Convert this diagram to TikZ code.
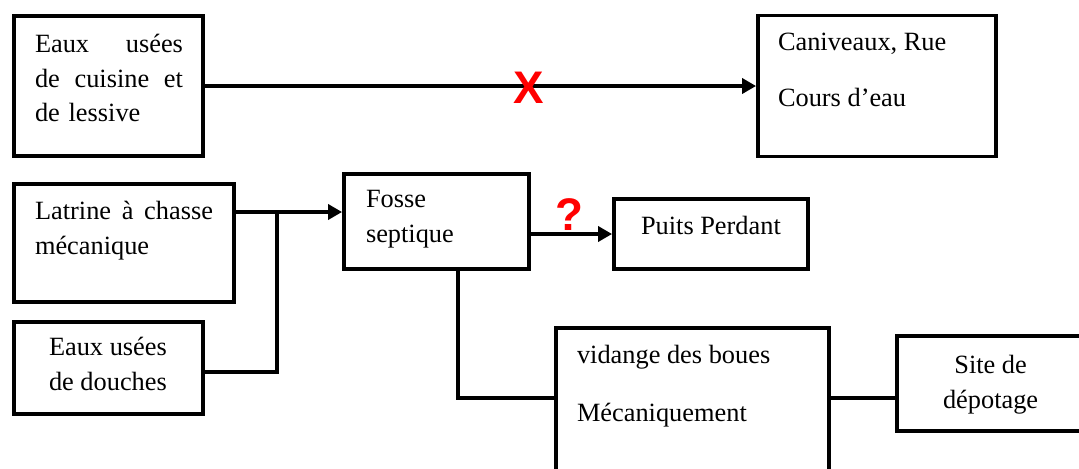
\documentclass[tikz,border=0pt]{standalone}
\usepackage{fontspec}
\setmainfont{Liberation Serif}
\newfontfamily\sansgras{Liberation Sans}
\usetikzlibrary{positioning,arrows.meta}

\begin{document}
\begin{tikzpicture}[x=0.02cm, y=-0.02cm, line width=2.2pt]
  \tikzstyle{bloc}=[rectangle,draw,inner sep=0pt]
  \tikzstyle{txt}=[inner sep=0pt,align=left,font=\fontsize{15}{19.8}\selectfont]
  \tikzstyle{signe}=[inner sep=0pt,text=red,font=\sansgras\bfseries\fontsize{26}{26}\selectfont]
  \useasboundingbox (0,0) rectangle (1079,468);
  % blocs
  \node[bloc,minimum width=3.78cm,minimum height=2.8cm] (eaux) at (108.5,86) {};
  \node[bloc,minimum width=4.76cm,minimum height=2.82cm] (canal) at (877,86) {};
  \node[bloc,minimum width=4.4cm,minimum height=2.36cm] (latrine) at (124,243) {};
  \node[bloc,minimum width=3.78cm,minimum height=1.84cm] (douche) at (108.5,368) {};
  \node[bloc,minimum width=3.7cm,minimum height=1.9cm] (fosse) at (436.5,221.5) {};
  \node[bloc,minimum width=3.88cm,minimum height=1.4cm] (puits) at (711,234) {};
  \node[bloc,minimum width=5.46cm,minimum height=3.44cm] (vidange) at (692.5,414) {};
  \node[bloc,minimum width=4.06cm,minimum height=1.9cm] (site) at (998.5,383.5) {};
  % textes
  \node[txt,text width=2.96cm,below right=0.36cm and 0.42cm of eaux.north west] (teaux) {Eaux\hfill usées\\de\hfill cuisine\hfill et\\de lessive};
  \node[txt,below right=0.36cm and 0.4cm of canal.north west] (tcanal) {Caniveaux, Rue\\[12pt]Cours d’eau};
  \node[txt,text width=3.56cm,below right=0.34cm and 0.42cm of latrine.north west] (tlatrine) {Latrine\hfill à\hfill chasse\\mécanique};
  \node[txt,below right=0.3cm and 0.7cm of douche.north west] (tdouche) {Eaux usées\\de douches};
  \node[txt,below right=0.33cm and 0.44cm of fosse.north west] (tfosse) {Fosse\\septique};
  \node[txt,below right=0.34cm and 0.54cm of puits.north west] (tpuits) {Puits Perdant};
  \node[txt,below right=0.34cm and 0.42cm of vidange.north west] (tvidange) {vidange des boues\\[13.6pt]Mécaniquement};
  \node[txt,align=center,below right=0.38cm and 0.92cm of site.north west] (tsite) {Site de\\dépotage};
  % liaisons
  \coordinate (j1) at (277,212);
  \coordinate (j2) at (458,398);
  \draw[-{Triangle[length=0.28cm,width=0.3cm]}] (eaux.east) -- (canal.west);
  \draw[-{Triangle[length=0.28cm,width=0.3cm]}] (j1 -| latrine.east) -- (j1 -| fosse.west);
  \draw ([yshift=-0.08cm]douche.east) -| (j1);
  \draw[-{Triangle[length=0.28cm,width=0.3cm]}] (fosse.east |- puits.west) -- (puits.west);
  \draw (j2 |- fosse.south) -- (j2) -- (j2 -| vidange.west);
  \draw (j2 -| vidange.east) -- (j2 -| site.west);
  \node[signe] (croix) at (529,87.5) {X};
  \node[signe] (doute) at (569,215) {?};
\end{tikzpicture}
\end{document}
